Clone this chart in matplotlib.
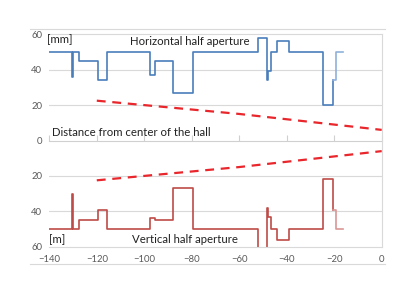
import matplotlib
matplotlib.use("Agg")
import matplotlib.pyplot as plt
from matplotlib.lines import Line2D

# step positions [m] (shared by both planes)
pos = [-140, -130.6, -129.9, -127.5, -119.4, -115.6, -97.4, -95.6, -87.7, -79.3,
       -52, -48.2, -47.8, -46.6, -44.2, -39, -24.7, -20.7]
# horizontal half aperture [mm]
horiz = [50, 36, 50, 45, 34, 50, 37, 45, 27, 50, 58, 34, 39, 50, 56, 50, 20, 34]
# vertical half aperture [mm]
vert = [50, 30, 50, 45, 39, 50, 44, 45, 27, 50, 65, 38, 43, 50, 56, 50, 22, 39]

# last short section (lighter line)
tail_pos = [-20.7, -19.3, -16.5]
tail_h = [34, 50, 50]
tail_v = [39, 50, 50]

# beam envelope (red dashed)
env_pos = [-120, -60, 0]
env_val = [22.5, 15, 6]

plt.rcParams['font.family'] = ['Lato', 'DejaVu Sans']

fig = plt.figure(figsize=(4.15, 2.94), dpi=100)
ax = fig.add_axes([0.1188, 0.1609, 0.801, 0.7224])

blue = '#4A7EBB'
red = '#BE4B48'
ax.plot(pos + [tail_pos[0]], horiz + [horiz[-1]], drawstyle='steps-post', color=blue, lw=1.2)
ax.plot(tail_pos, tail_h, drawstyle='steps-post', color='#8FB0DA', lw=1.2)
ax.plot(pos + [tail_pos[0]], [-v for v in vert] + [-vert[-1]], drawstyle='steps-post', color=red, lw=1.2)
ax.plot(tail_pos, [-v for v in tail_v], drawstyle='steps-post', color='#D99694', lw=1.2)

ax.plot(env_pos, env_val, color='#E8262B', lw=1.6, dashes=(4, 3))
ax.plot(env_pos, [-v for v in env_val], color='#E8262B', lw=1.6, dashes=(4, 3))

ax.set_xlim(-140, 0)
ax.set_ylim(-60, 60)
ax.set_xticks(range(-140, 1, 20))
ax.set_yticks(range(-60, 61, 20))
ax.set_yticklabels([str(abs(t)) for t in range(-60, 61, 20)])
ax.tick_params(axis='y', length=0, labelsize=6.8, labelcolor='#595959', pad=5)
ax.tick_params(axis='x', length=0, labelsize=6.8, labelcolor='#595959', pad=6)
for y in (-40, -20, 20, 40):
    ax.axhline(y, color='#D9D9D9', lw=0.8, zorder=0)
ax.spines['left'].set_visible(False)
for s in ('top', 'bottom', 'right'):
    ax.spines[s].set_color('#D9D9D9')
    ax.spines[s].set_linewidth(0.8)

# middle axis with tick marks
mid = ax.secondary_xaxis(0.5)
mid.set_xticks(range(-140, 1, 20))
mid.tick_params(length=4, direction='out', color='#D0D0D0', labelbottom=False, labeltop=False)
for sp in mid.spines.values():
    sp.set_color('#D0D0D0')
    sp.set_linewidth(0.8)

ax.text(-141, 57, '[mm]', fontsize=8.2, color='#222222', va='center')
ax.text(-106, 56, 'Horizontal half aperture', fontsize=8.2, color='#222222', va='center')
ax.text(-139, 4.4, 'Distance from center of the hall', fontsize=8.2, color='#222222', va='center')
ax.text(-140, -56, '[m]', fontsize=8.2, color='#222222', va='center')
ax.text(-105, -56, 'Vertical half aperture', fontsize=8.2, color='#222222', va='center')

# chart area border lines
for yy in (29, 264):
    fig.add_artist(Line2D([30 / 415, 385 / 415], [1 - yy / 294, 1 - yy / 294],
                          transform=fig.transFigure, color='#D9D9D9', lw=0.8))

fig.savefig('out.png', dpi=100)
